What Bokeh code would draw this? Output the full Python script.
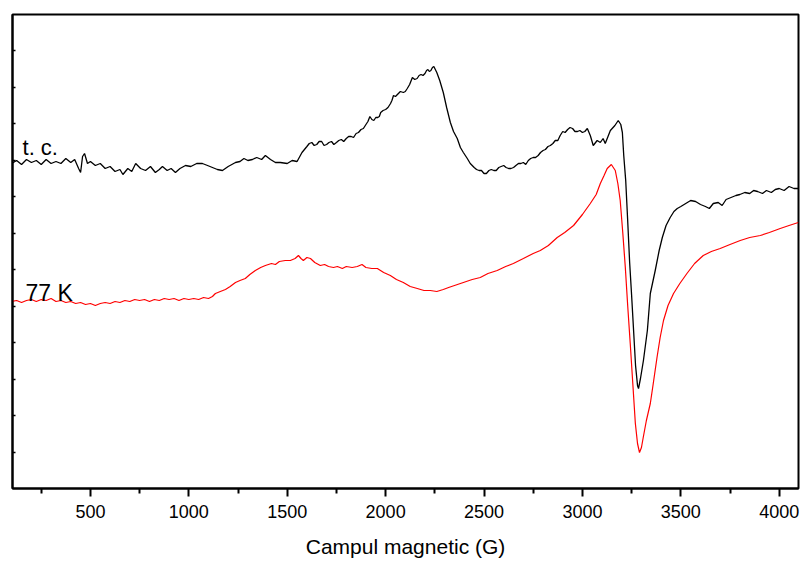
from bokeh.plotting import figure
from bokeh.models import FixedTicker, Range1d, Label, CustomJSTickFormatter
from bokeh.embed import file_html
from bokeh.resources import INLINE

# EPR spectrum recorded at room temperature (t. c.) -- field in G, intensity in a.u.
field_tc = [100, 125, 150, 175, 200, 225, 250, 275, 300, 325, 350, 375, 400, 420, 440, 450, 460, 470, 485,
            500, 525, 550, 575, 600, 625, 650, 665, 690, 710, 730, 755, 780, 805, 830, 850, 866, 890, 910,
            932, 955, 983, 1010, 1040, 1069, 1095, 1120, 1145, 1171, 1200, 1237, 1260, 1280, 1300, 1323,
            1345, 1370, 1389, 1415, 1440, 1465, 1500, 1525, 1550, 1575, 1600, 1612, 1625, 1637, 1650, 1662,
            1675, 1687, 1700, 1712, 1725, 1737, 1750, 1762, 1775, 1787, 1800, 1812, 1825, 1837, 1850, 1862,
            1875, 1887, 1900, 1910, 1920, 1930, 1940, 1950, 1960, 1968, 1975, 1987, 2000, 2012, 2025, 2032,
            2040, 2050, 2060, 2075, 2090, 2100, 2110, 2122, 2136, 2148, 2160, 2170, 2180, 2190, 2200, 2208,
            2215, 2222, 2230, 2238, 2245, 2260, 2275, 2293, 2310, 2329, 2345, 2364, 2380, 2395, 2415, 2430,
            2450, 2462, 2475, 2487, 2500, 2512, 2525, 2537, 2550, 2562, 2575, 2587, 2600, 2612, 2625, 2637,
            2650, 2662, 2675, 2687, 2700, 2712, 2725, 2737, 2750, 2762, 2775, 2787, 2800, 2812, 2825, 2837,
            2850, 2862, 2875, 2887, 2900, 2912, 2925, 2937, 2950, 2962, 2975, 2987, 3000, 3012, 3025, 3040,
            3055, 3075, 3091, 3105, 3116, 3130, 3142, 3165, 3182, 3195, 3203, 3210, 3220, 3230, 3240, 3250,
            3260, 3270, 3280, 3285, 3295, 3310, 3330, 3345, 3370, 3390, 3406, 3425, 3446, 3465, 3482, 3500,
            3525, 3550, 3575, 3600, 3625, 3645, 3665, 3690, 3710, 3730, 3755, 3780, 3800, 3825, 3850, 3870,
            3890, 3915, 3935, 3960, 3980, 4000, 4025, 4050, 4075, 4100]
signal_tc = [325, 328, 324, 329, 326, 328, 324, 329, 325, 327, 325, 330, 326, 329, 320, 316, 332, 335, 325,
             327, 323, 325, 320, 322, 317, 319, 314, 320, 317, 325, 320, 318, 322, 316, 319, 322, 318, 320,
             316, 320, 323, 322, 325, 325, 323, 321, 319, 318, 322, 326, 327, 330, 328, 329,
             331, 329, 333, 329, 326, 326, 325, 328, 327, 336, 342, 345, 346, 343, 344, 347,
             347, 343, 344, 346, 347, 344, 346, 348, 349, 347, 350, 352, 352, 351, 355, 356,
             359, 360, 364, 367, 372, 369, 368, 371, 371, 372, 376, 378, 379, 381, 385, 388,
             393, 392, 394, 397, 396, 397, 400, 404, 411, 409, 410, 413, 414, 413, 415, 418,
             419, 417, 418, 421, 422, 416, 408, 396, 381, 366, 357, 350, 341, 336, 330, 325,
             321, 319, 318, 318, 315, 315, 318, 319, 318, 318, 321, 322, 323, 321, 320, 320,
             321, 323, 325, 325, 326, 324, 328, 330, 331, 331, 333, 336, 338, 339, 342, 343,
             345, 348, 348, 353, 357, 356, 359, 361, 360, 357, 357, 358, 356, 357, 360, 353,
             343, 348, 346, 350, 345, 352, 358, 363, 368, 364, 356, 333, 308, 268, 226, 193,
             158, 123, 103, 100, 110, 128, 158, 195, 218, 238, 251, 263, 271, 277, 280, 282,
             285, 288, 287, 284, 282, 280, 285, 286, 283, 289, 291, 293, 294, 296, 295, 298,
             297, 295, 298, 296, 299, 300, 298, 302, 300, 300]

# EPR spectrum recorded at 77 K
field_77k = [100, 125, 150, 175, 200, 225, 250, 275, 300, 325, 350, 375, 400, 425, 450, 475, 500, 525, 550,
             575, 600, 625, 650, 675, 700, 725, 750, 775, 800, 825, 850, 875, 900, 925, 950, 975, 1000,
             1025, 1050, 1075, 1100, 1120, 1135, 1160, 1186, 1210, 1237, 1260, 1287, 1310, 1338, 1365,
             1389, 1420, 1440, 1460, 1490, 1516, 1540, 1557, 1570, 1582, 1600, 1618, 1640, 1668, 1690,
             1710, 1735, 1755, 1780, 1800, 1830, 1856, 1880, 1900, 1930, 1958, 1990, 2024, 2055, 2090,
             2125, 2161, 2195, 2227, 2260, 2293, 2320, 2350, 2380, 2410, 2440, 2481, 2520, 2567, 2610,
             2649, 2700, 2750, 2786, 2827, 2872, 2910, 2955, 3000, 3040, 3070, 3091, 3110, 3126, 3147,
             3167, 3180, 3192, 3205, 3218, 3230, 3243, 3256, 3269, 3280, 3290, 3300, 3309, 3325, 3345,
             3360, 3379, 3395, 3412, 3435, 3463, 3495, 3531, 3570, 3614, 3655, 3700, 3750, 3802, 3850,
             3904, 3950, 4005, 4050, 4097]
signal_77k = [187, 188, 186, 188, 189, 187, 189, 188, 190, 187, 188, 186, 187, 185, 186, 184, 185, 183, 185,
              186, 185, 187, 186, 188, 187, 189, 188, 189, 187, 189, 188, 190, 189, 190, 188, 190, 189,
              190, 189, 191, 190, 192, 195, 197, 199, 202, 206, 208, 210, 214, 218, 221,
              223, 225, 224, 227, 228, 228, 230, 233, 230, 228, 231, 230, 226, 223, 224,
              222, 221, 222, 220, 222, 221, 222, 224, 221, 220, 220, 216, 213, 209, 206,
              202, 200, 198, 198, 197, 199, 201, 203, 205, 207, 209, 211, 215, 218, 222,
              225, 230, 235, 238, 243, 251, 256, 263, 274, 285, 294, 305, 313, 320, 324,
              318, 305, 288, 256, 221, 183, 145, 105, 65, 45, 36, 41, 51, 68, 85,
              105, 131, 151, 168, 183, 195, 205, 215, 225, 233, 237, 240, 244, 248, 251,
              253, 256, 260, 263, 266]

x_major = [500, 1000, 1500, 2000, 2500, 3000, 3500, 4000]
x_minor = [250, 750, 1250, 1750, 2250, 2750, 3250, 3750]
y_ticks = [36.5, 73, 109.5, 146, 182.5, 219, 255.5, 292, 328.5, 365, 401.5, 438]

FONT = "Liberation Sans"

p = figure(frame_width=786, frame_height=474,
           x_range=Range1d(104, 4098), y_range=Range1d(0, 474),
           output_backend="svg", toolbar_location=None,
           min_border_left=12, min_border_right=7, min_border_top=14, min_border_bottom=74,
           background_fill_color="white", border_fill_color="white")

p.line(field_tc, signal_tc, line_color="#000000", line_width=1.3)
p.line(field_77k, signal_77k, line_color="#ff0000", line_width=1.2)

p.add_layout(Label(x=155, y=341, text="t. c.", text_font=FONT, text_font_size="22px",
                   text_baseline="alphabetic", text_color="#000000"))
p.add_layout(Label(x=170, y=196, text="77 K", text_font=FONT, text_font_size="23px",
                   text_baseline="alphabetic", text_color="#000000"))

p.xgrid.grid_line_color = None
p.ygrid.grid_line_color = None
p.outline_line_color = "#000000"
p.outline_line_width = 2

xa = p.xaxis[0]
xa.ticker = FixedTicker(ticks=x_major, minor_ticks=x_minor)
xa.axis_line_width = 2
xa.major_tick_out = 8
xa.major_tick_in = 0
xa.minor_tick_out = 5
xa.minor_tick_in = 0
xa.major_tick_line_width = 2
xa.minor_tick_line_width = 2
xa.major_label_text_font = FONT
xa.major_label_text_font_size = "18px"
xa.major_label_text_color = "#000000"
xa.major_label_standoff = 8
xa.axis_label = "Campul magnetic (G)"
xa.axis_label_text_font = FONT
xa.axis_label_text_font_size = "21px"
xa.axis_label_text_font_style = "normal"
xa.axis_label_text_color = "#000000"
xa.axis_label_standoff = 14

ya = p.yaxis[0]
ya.ticker = FixedTicker(ticks=y_ticks, minor_ticks=[])
ya.formatter = CustomJSTickFormatter(code="return ''")
ya.axis_line_width = 2
ya.major_tick_in = 3
ya.major_tick_out = 0
ya.major_tick_line_width = 1.5
ya.minor_tick_line_color = None
ya.major_label_standoff = 0

open("out.html", "w").write(file_html(p, INLINE))
